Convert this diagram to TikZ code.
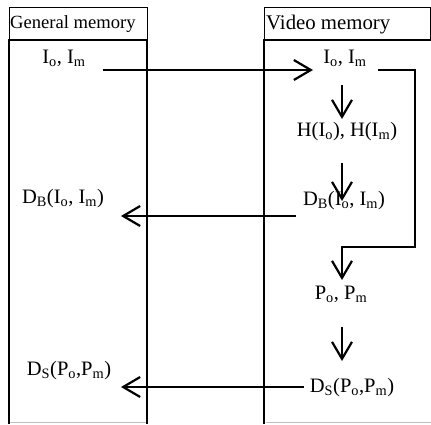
\documentclass[tikz,border=0pt]{standalone}
\usepackage{fontspec}
\setmainfont{Liberation Serif}
\usetikzlibrary{arrows.meta}

\begin{document}
\begin{tikzpicture}[x=1pt, y=-1pt,
    lbl/.style={font=\fontsize{20.5}{24}\selectfont, inner sep=0pt, anchor=base},
    flow/.style={line width=2.2pt, -{Straight Barb[length=17pt,width=20pt]}},
    side/.style={line width=2.8pt},
    head/.style={line width=0.8pt}]
  \useasboundingbox (0,0) rectangle (431,424);

  % Column headers
  \draw[head] (9,7) rectangle (147,40);
  \draw[head] (264,7) rectangle (430,40);
  \node[lbl, font=\fontsize{18.6}{22}\selectfont, anchor=base west] (gentitle) at (10,28) {General memory};
  \node[lbl, font=\fontsize{20.8}{24}\selectfont, anchor=base west] (vidtitle) at (266,29) {Video memory};

  % Column bodies (thick sides, light bottom)
  \draw[side] (9,424) -- (9,40) -- (147,40) -- (147,424);
  \draw[side] (264,424) -- (264,40) -- (431,40);
  \draw[gray!50, line width=1.2pt] (10,422.6) -- (146,422.6);
  \draw[gray!50, line width=1.2pt] (266,422.6) -- (431,422.6);

  % General memory contents
  \node[lbl] (imgen) at (64,63) {I\textsubscript{o}, I\textsubscript{m}};
  \node[lbl] (dbgen) at (63,203) {D\textsubscript{B}(I\textsubscript{o}, I\textsubscript{m})};
  \node[lbl] (dsgen) at (69,375) {D\textsubscript{S}(P\textsubscript{o},P\textsubscript{m})};

  % Video memory contents
  \node[lbl] (imvid) at (345,63) {I\textsubscript{o}, I\textsubscript{m}};
  \node[lbl] (hvid) at (347,136) {H(I\textsubscript{o}), H(I\textsubscript{m})};
  \node[lbl] (dbvid) at (344,205) {D\textsubscript{B}(I\textsubscript{o}, I\textsubscript{m})};
  \node[lbl] (pvid) at (341,299) {P\textsubscript{o}, P\textsubscript{m}};
  \node[lbl] (dsvid) at (352,392) {D\textsubscript{S}(P\textsubscript{o},P\textsubscript{m})};

  % Arrow ends
  \coordinate (upload) at (103,70);
  \coordinate (upin) at (313,70);
  \coordinate (loopout) at (378,70);
  \coordinate (loopin) at (342,280);
  \coordinate (hout) at (342,85);
  \coordinate (hin) at (342,119);
  \coordinate (dbout) at (342,163);
  \coordinate (dbin) at (342,201);
  \coordinate (dbback) at (296,216);
  \coordinate (dbhost) at (121,216);
  \coordinate (dsout) at (342,327);
  \coordinate (dsin) at (342,361);
  \coordinate (dsback) at (304,387);
  \coordinate (dshost) at (121,387);

  % Transfers and steps
  \draw[flow] (upload) -- (upin);
  \draw[flow] (loopout) -- (415,70) -- (415,247) -- (342,247) -- (loopin);
  \draw[flow] (hout) -- (hin);
  \draw[flow] (dbout) -- (dbin);
  \draw[flow] (dbback) -- (dbhost);
  \draw[flow] (dsout) -- (dsin);
  \draw[flow] (dsback) -- (dshost);
\end{tikzpicture}
\end{document}
